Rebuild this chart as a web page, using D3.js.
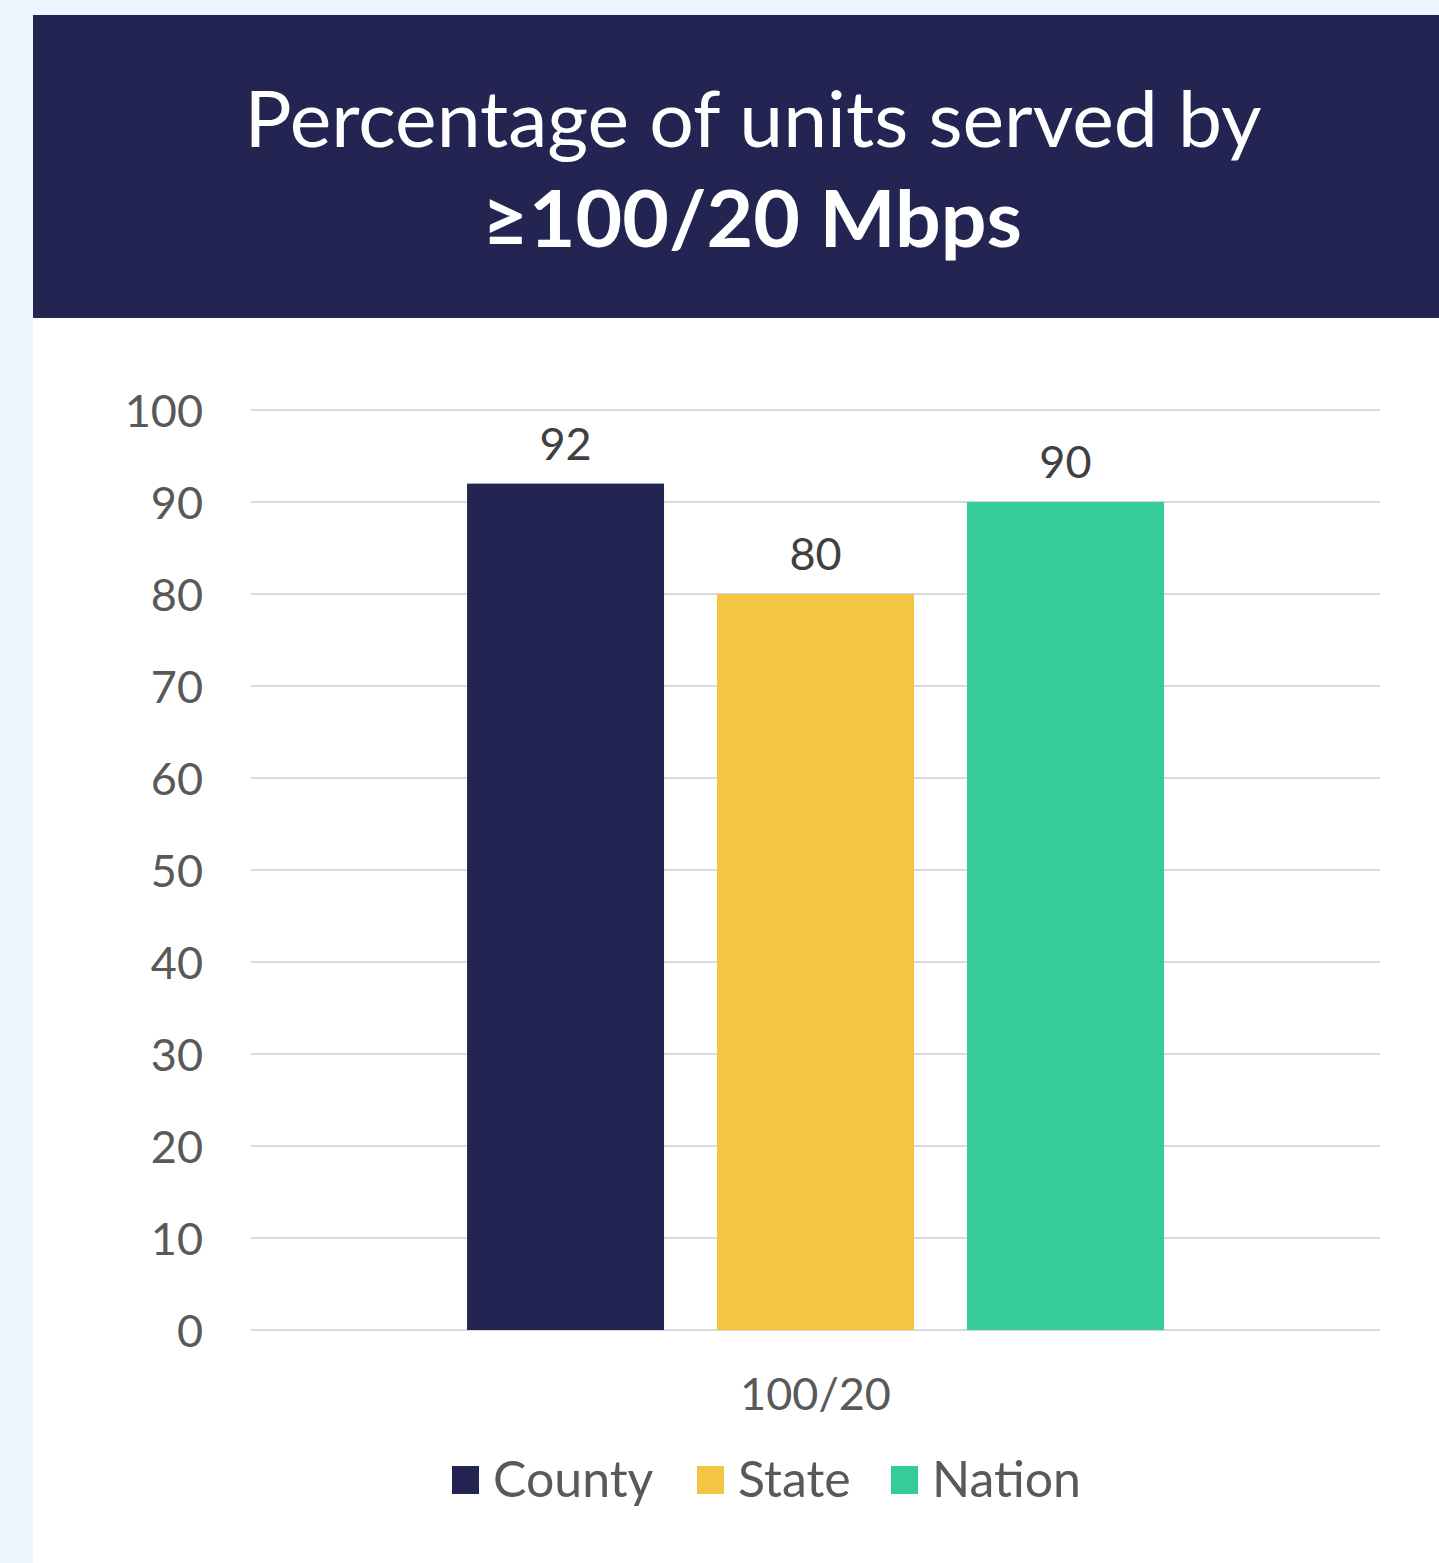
<!DOCTYPE html>
<html><head><meta charset="utf-8">
<script src="https://cdn.jsdelivr.net/npm/d3@7"></script>
<style>html,body{margin:0;padding:0;background:#eef5fe;}svg{display:block;}</style>
</head><body>
<svg id="chart" width="1439" height="1563"></svg>
<script>
const titleLine1 = "Percentage of units served by";
const titleLine2 = "≥100/20 Mbps";
const categories = ["100/20"];
const seriesNames = ["County", "State", "Nation"];
const seriesValues = [92, 80, 90];
const seriesColors = ["#232451", "#f4c443", "#35cc98"];
const yTicks = [0, 10, 20, 30, 40, 50, 60, 70, 80, 90, 100];

const svg = d3.select("#chart");
const FONT = "Lato, 'Open Sans', sans-serif";
const TXT = "#595959";

// panels
svg.append("rect").attr("x", 33).attr("y", 15).attr("width", 1406).attr("height", 304).attr("fill", "#232451");
svg.append("rect").attr("x", 33).attr("y", 318).attr("width", 1406).attr("height", 1245).attr("fill", "#ffffff");

// title
function fitText(sel, w) {
  const len = sel.node().getComputedTextLength();
  if (len > 0) sel.attr("textLength", w).attr("lengthAdjust", "spacingAndGlyphs");
}
const t1 = svg.append("text").attr("x", 753).attr("y", 147).attr("text-anchor", "middle")
  .attr("fill", "#fff").attr("font-family", FONT).attr("font-size", 78).text(titleLine1);
fitText(t1, 1017);
const t2 = svg.append("text").attr("x", 752).attr("y", 247).attr("text-anchor", "middle")
  .attr("fill", "#fff").attr("font-family", FONT).attr("font-weight", "bold").attr("font-size", 78).text(titleLine2);
fitText(t2, 540);

// scales
const margin = {left: 251, right: 1380, top: 410, bottom: 1330};
const y = d3.scaleLinear().domain([0, 100]).range([margin.bottom, margin.top]);
const x0 = d3.scaleBand().domain(categories).range([margin.left, margin.right]).paddingInner(0).paddingOuter(0.31);
const x1 = d3.scaleBand().domain(seriesNames).range([0, x0.bandwidth()]).paddingInner(0.212).paddingOuter(0);

// gridlines
svg.append("g").selectAll("line").data(yTicks).join("line")
  .attr("x1", margin.left).attr("x2", margin.right)
  .attr("y1", d => y(d)).attr("y2", d => y(d))
  .attr("stroke", "#d9d9d9").attr("stroke-width", 2);

// y axis
const yAxis = svg.append("g").attr("transform", `translate(203,0)`)
  .call(d3.axisLeft(y).tickValues(yTicks).tickSize(0).tickPadding(0));
yAxis.select(".domain").remove();
yAxis.selectAll("text").attr("font-family", FONT).attr("font-size", 45).attr("fill", TXT).attr("dy", "0.36em");

// bars
const g = svg.append("g");
categories.forEach(cat => {
  const gg = g.append("g").attr("transform", `translate(${x0(cat)},0)`);
  const data = seriesNames.map((s, i) => ({s, v: seriesValues[i], c: seriesColors[i]}));
  gg.selectAll("rect").data(data).join("rect")
    .attr("x", d => x1(d.s)).attr("width", x1.bandwidth())
    .attr("y", d => y(d.v)).attr("height", d => y(0) - y(d.v))
    .attr("fill", d => d.c);
  gg.selectAll("text").data(data).join("text")
    .attr("x", d => x1(d.s) + x1.bandwidth() / 2).attr("y", d => y(d.v) - 24)
    .attr("text-anchor", "middle").attr("font-family", FONT).attr("font-size", 45).attr("fill", "#404040")
    .text(d => d.v);
});

// x axis
const xAxis = svg.append("g").attr("transform", `translate(0,${margin.bottom + 48})`)
  .call(d3.axisBottom(x0).tickSize(0).tickPadding(0));
xAxis.select(".domain").remove();
xAxis.selectAll("text").attr("font-family", FONT).attr("font-size", 45).attr("fill", TXT).attr("dy", "0.71em");

// legend
const legendX = [452, 697, 891];
const leg = svg.append("g").selectAll("g").data(seriesNames).join("g")
  .attr("transform", (d, i) => `translate(${legendX[i]},1466)`);
leg.append("rect").attr("width", 27).attr("height", 28).attr("fill", (d, i) => seriesColors[i]);
leg.append("text").attr("x", 41).attr("y", 31).attr("font-family", FONT).attr("font-size", 50).attr("fill", TXT).text(d => d);
</script>
</body></html>
